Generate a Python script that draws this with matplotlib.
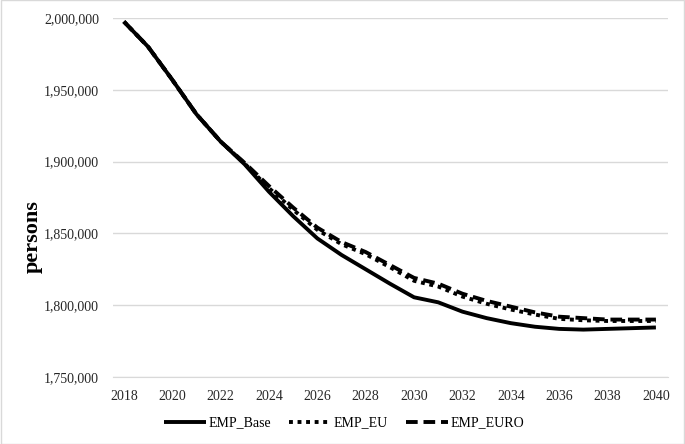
import matplotlib
matplotlib.use("Agg")
import matplotlib.pyplot as plt
from matplotlib.ticker import FuncFormatter

years = list(range(2018, 2041))
emp_base = [1997500, 1980000, 1957000, 1933000, 1914000, 1898000, 1879000, 1862000,
            1846500, 1835000, 1825000, 1815000, 1805500, 1802000, 1795500, 1791000,
            1787500, 1785000, 1783500, 1783000, 1783500, 1784000, 1784500]
emp_eu = [1997500, 1980000, 1957000, 1933000, 1914000, 1898500, 1881500, 1866500,
          1852500, 1842500, 1835500, 1826500, 1817000, 1813000, 1806000, 1801000,
          1797000, 1793500, 1790500, 1789500, 1789000, 1789000, 1789000]
emp_euro = [1997500, 1980000, 1957000, 1933000, 1914000, 1899000, 1883000, 1868000,
            1854000, 1844000, 1837000, 1828000, 1819000, 1815000, 1808000, 1803000,
            1799000, 1795000, 1792000, 1791000, 1790000, 1790000, 1790000]
xticks = list(range(2018, 2041, 2))
yticks = [1750000, 1800000, 1850000, 1900000, 1950000, 2000000]

plt.rcParams['font.family'] = ['Liberation Serif', 'DejaVu Serif']

fig = plt.figure(figsize=(6.85, 4.44), dpi=100)
ax = fig.add_axes([113/685, 1-377/444, (668-113)/685, (377-18)/444])

ax.plot(years, emp_base, color='black', lw=2.8, solid_capstyle='butt', label='EMP_Base')
ax.plot(years, emp_eu, color='black', lw=2.8, linestyle=(0, (1, 1.2)), label='EMP_EU')
ax.plot(years, emp_euro, color='black', lw=2.8, linestyle=(0, (3, 1.5)), label='EMP_EURO')

ax.set_ylim(1750000, 2000000)
ax.set_xlim(2017.55, 2040.5)
ax.set_yticks(yticks)
ax.set_xticks(xticks)
ax.yaxis.set_major_formatter(FuncFormatter(lambda v, p: f"{int(v):,}"))
ax.grid(axis='y', color='#d9d9d9', lw=1)
ax.set_axisbelow(True)
for s in ['top', 'right', 'left']:
    ax.spines[s].set_visible(False)
ax.spines['bottom'].set_color('#d9d9d9')
ax.tick_params(axis='both', length=0, labelsize=10, colors='#262626')
ax.tick_params(axis='y', pad=10)
ax.tick_params(axis='x', pad=9)

fig.text(33/685, 1-237/444, 'persons', rotation=90, fontsize=16, fontweight='bold',
         ha='center', va='center')

fig.legend(loc='center', bbox_to_anchor=(344/685, 1-423/444), ncol=3, frameon=False,
           fontsize=10, handlelength=3.0, columnspacing=1.3, handletextpad=0.2)

border = plt.Rectangle((0.001, 0.001), 0.998, 0.998, transform=fig.transFigure,
                       fill=False, edgecolor='#d9d9d9', lw=1)
fig.patches.append(border)

fig.savefig('out.png', dpi=100)
